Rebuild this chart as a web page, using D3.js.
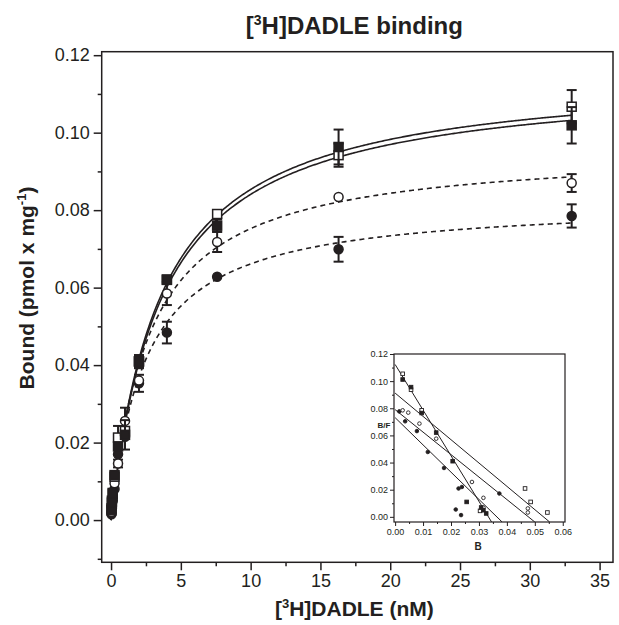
<!DOCTYPE html>
<html>
<head>
<meta charset="utf-8">
<script src="https://cdn.jsdelivr.net/npm/d3@7"></script>
<style>
  body { margin: 0; background: #fff; }
  text { font-family: "Liberation Sans", Arial, sans-serif; fill: #231f20; }
</style>
</head>
<body>
<div id="chart"></div>
<script>
// concentrations (nM)
const conc = [0.03, 0.06, 0.12, 0.25, 0.5, 1, 2, 4, 7.6, 16.3, 33];

// bound (pmol x mg-1) and SEM per series
const boundOpenSq = [0.003, 0.005, 0.007, 0.0112, 0.0213, 0.023, 0.041, 0.062, 0.079, 0.0942, 0.1067];
const errOpenSq   = [0, 0, 0, 0, 0.003, 0, 0.0015, 0, 0.001, 0.003, 0.0043];
const boundFillSq = [0.0025, 0.0045, 0.0068, 0.0116, 0.019, 0.022, 0.0409, 0.0621, 0.076, 0.0963, 0.1019];
const errFillSq   = [0, 0, 0, 0, 0, 0.0038, 0.0017, 0, 0.0016, 0.0045, 0.0047];
const boundOpenCi = [0.002, 0.0035, 0.0055, 0.0095, 0.0146, 0.0256, 0.036, 0.0585, 0.0718, 0.0834, 0.087];
const errOpenCi   = [0, 0, 0, 0, 0.001, 0.0034, 0, 0.003, 0.0026, 0, 0.0023];
const boundFillCi = [0.0015, 0.003, 0.005, 0.008, 0.017, 0.0215, 0.0353, 0.0484, 0.0628, 0.0699, 0.0785];
const errFillCi   = [0, 0, 0, 0, 0, 0, 0.0022, 0.0028, 0, 0.0032, 0.003];

// one-site fits: Bmax, Kd
const fitBmax = [0.1158, 0.1145, 0.096, 0.0824];
const fitKd   = [3.57, 3.62, 2.76, 2.46];
const fitDashed = [false, false, true, true];

// Scatchard inset (B, B/F)
const scB_OpenSq  = [0.0027, 0.0057, 0.0095, 0.0304, 0.0465, 0.0485, 0.0545];
const scBF_OpenSq = [0.1054, 0.0937, 0.0785, 0.0044, 0.0209, 0.011, 0.0032];
const scB_FillSq  = [0.0027, 0.0057, 0.0095, 0.0147, 0.0206, 0.0256, 0.0308, 0.0316, 0.0326];
const scBF_FillSq = [0.1012, 0.0956, 0.0765, 0.0621, 0.041, 0.011, 0.0069, 0.0049, 0.0025];
const scB_OpenCi  = [0.0027, 0.0047, 0.0087, 0.0147, 0.0275, 0.0316, 0.0316, 0.0475, 0.0475];
const scBF_OpenCi = [0.0785, 0.0768, 0.0687, 0.0576, 0.0257, 0.014, 0.0069, 0.0062, 0.0032];
const scB_FillCi  = [0.0015, 0.0036, 0.0078, 0.0117, 0.0175, 0.0227, 0.0239, 0.0217, 0.0236, 0.0373];
const scBF_FillCi = [0.0777, 0.0704, 0.0632, 0.0478, 0.036, 0.0209, 0.022, 0.0054, 0.0013, 0.0172];
// regression lines: B/F intercept, B intercept
const scIntBF = [0.1123, 0.0731, 0.079, 0.0912];
const scIntB  = [0.0334, 0.0364, 0.0477, 0.0531];

const ink = "#231f20";
const W = 619, H = 625;
const m = { LEFT: 101.7, RIGHT: 613, TOP: 51.7, BOTTOM: 562.3 };

const svg = d3.select("#chart").append("svg")
  .attr("width", W).attr("height", H);

const x = d3.scaleLinear().domain([-0.67, 35.96]).range([m.LEFT, m.RIGHT]);
const y = d3.scaleLinear().domain([-0.0109, 0.1209]).range([m.BOTTOM, m.TOP]);

// frame
svg.append("rect")
  .attr("x", m.LEFT).attr("y", m.TOP)
  .attr("width", m.RIGHT - m.LEFT).attr("height", m.BOTTOM - m.TOP)
  .attr("fill", "none").attr("stroke", ink).attr("stroke-width", 1.5);

// axes
const xAxis = d3.axisBottom(x).tickValues(d3.range(0, 36, 5)).tickSize(8).tickPadding(4).tickFormat(d3.format("d"));
const xMinor = d3.axisBottom(x).tickValues(d3.range(2.5, 35, 5)).tickSize(4).tickFormat("");
const yAxis = d3.axisLeft(y).tickValues(d3.range(0, 0.121, 0.02)).tickSize(8).tickPadding(4).tickFormat(d3.format(".2f"));
const yMinor = d3.axisLeft(y).tickValues([-0.01, 0.01, 0.03, 0.05, 0.07, 0.09, 0.11]).tickSize(4).tickFormat("");

function styleAxis(g, fs) {
  g.select(".domain").remove();
  g.selectAll("line").attr("stroke", ink).attr("stroke-width", 1.5);
  g.selectAll("text").attr("font-size", fs).attr("fill", ink);
}
svg.append("g").attr("transform", `translate(0,${m.BOTTOM})`).call(xAxis).call(g => styleAxis(g, 18));
svg.append("g").attr("transform", `translate(0,${m.BOTTOM})`).call(xMinor).call(g => styleAxis(g, 18));
svg.append("g").attr("transform", `translate(${m.LEFT},0)`).call(yAxis).call(g => styleAxis(g, 18));
svg.append("g").attr("transform", `translate(${m.LEFT},0)`).call(yMinor).call(g => styleAxis(g, 18));

// titles
const title = svg.append("text")
  .attr("x", (m.LEFT + m.RIGHT) / 2 - 3).attr("y", 34)
  .attr("text-anchor", "middle").attr("font-size", 24).attr("font-weight", "bold");
title.append("tspan").text("[");
title.append("tspan").attr("font-size", 14).attr("dy", -9).text("3");
title.append("tspan").attr("dy", 9).text("H]DADLE binding");

const xLab = svg.append("text")
  .attr("x", (m.LEFT + m.RIGHT) / 2 - 3).attr("y", 616)
  .attr("text-anchor", "middle").attr("font-size", 21).attr("font-weight", "bold");
xLab.append("tspan").text("[");
xLab.append("tspan").attr("font-size", 13).attr("dy", -8).text("3");
xLab.append("tspan").attr("dy", 8).text("H]DADLE (nM)");

const yLab = svg.append("text")
  .attr("transform", `translate(34,288) rotate(-90)`)
  .attr("text-anchor", "middle").attr("font-size", 21).attr("font-weight", "bold");
yLab.append("tspan").text("Bound (pmol x mg");
yLab.append("tspan").attr("font-size", 13).attr("dy", -8).text("-1");
yLab.append("tspan").attr("dy", 8).text(")");

// fit curves
const curveX = d3.range(0, 33.01, 0.1);
const line = d3.line().x(d => x(d[0])).y(d => y(d[1]));
fitBmax.forEach((bm, i) => {
  svg.append("path")
    .attr("d", line(curveX.map(c => [c, bm * c / (fitKd[i] + c)])))
    .attr("fill", "none").attr("stroke", ink).attr("stroke-width", 1.6)
    .attr("stroke-dasharray", fitDashed[i] ? "5,4" : null);
});

// data series
const series = [
  { vals: boundFillCi, errs: errFillCi, shape: "circle", filled: true },
  { vals: boundOpenCi, errs: errOpenCi, shape: "circle", filled: false },
  { vals: boundOpenSq, errs: errOpenSq, shape: "square", filled: false },
  { vals: boundFillSq, errs: errFillSq, shape: "square", filled: true }
];

function drawMarker(g, cx, cy, shape, filled, size, sw) {
  if (shape === "circle") {
    g.append("circle").attr("cx", cx).attr("cy", cy).attr("r", size / 2)
      .attr("fill", filled ? ink : "#fff").attr("stroke", ink).attr("stroke-width", sw);
  } else {
    g.append("rect").attr("x", cx - size / 2).attr("y", cy - size / 2)
      .attr("width", size).attr("height", size)
      .attr("fill", filled ? ink : "#fff").attr("stroke", ink).attr("stroke-width", sw);
  }
}

const gPts = svg.append("g");
series.forEach(s => {
  s.vals.forEach((v, i) => {
    const e = s.errs[i];
    if (e > 0) {
      const cx = x(conc[i]);
      const lo = v - e, hi = v + e;
      gPts.append("line").attr("x1", cx).attr("x2", cx).attr("y1", y(lo)).attr("y2", y(hi))
        .attr("stroke", ink).attr("stroke-width", 2);
      [lo, hi].forEach(t => gPts.append("line")
        .attr("x1", cx - 5).attr("x2", cx + 5).attr("y1", y(t)).attr("y2", y(t))
        .attr("stroke", ink).attr("stroke-width", 2));
    }
  });
  s.vals.forEach((v, i) => drawMarker(gPts, x(conc[i]), y(v), s.shape, s.filled, 9, 1.5));
});

// inset (Scatchard)
const ins = { LEFT: 394, RIGHT: 565, TOP: 354, BOTTOM: 522 };
const ix = d3.scaleLinear().domain([-0.0004, 0.0608]).range([ins.LEFT, ins.RIGHT]);
const iy = d3.scaleLinear().domain([-0.0038, 0.12]).range([ins.BOTTOM, ins.TOP]);

svg.append("rect")
  .attr("x", ins.LEFT).attr("y", ins.TOP)
  .attr("width", ins.RIGHT - ins.LEFT).attr("height", ins.BOTTOM - ins.TOP)
  .attr("fill", "#fff").attr("stroke", ink).attr("stroke-width", 1.2);

svg.append("clipPath").attr("id", "insClip").append("rect")
  .attr("x", ins.LEFT).attr("y", ins.TOP)
  .attr("width", ins.RIGHT - ins.LEFT).attr("height", ins.BOTTOM - ins.TOP);

const ixAxis = d3.axisBottom(ix).tickValues(d3.range(0, 0.061, 0.01)).tickSize(4).tickPadding(3).tickFormat(d3.format(".2f"));
const ixMinor = d3.axisBottom(ix).tickValues(d3.range(0.005, 0.06, 0.01)).tickSize(2).tickFormat("");
const iyAxis = d3.axisLeft(iy).tickValues(d3.range(0, 0.121, 0.02)).tickSize(4).tickPadding(2).tickFormat(d3.format(".2f"));
const iyMinor = d3.axisLeft(iy).tickValues(d3.range(0.01, 0.12, 0.02)).tickSize(2).tickFormat("");
function styleInset(g) {
  g.select(".domain").remove();
  g.selectAll("line").attr("stroke", ink).attr("stroke-width", 1);
  g.selectAll("text").attr("font-size", 9).attr("fill", ink);
}
svg.append("g").attr("transform", `translate(0,${ins.BOTTOM})`).call(ixAxis).call(styleInset);
svg.append("g").attr("transform", `translate(0,${ins.BOTTOM})`).call(ixMinor).call(styleInset);
svg.append("g").attr("transform", `translate(${ins.LEFT},0)`).call(iyAxis).call(styleInset);
svg.append("g").attr("transform", `translate(${ins.LEFT},0)`).call(iyMinor).call(styleInset);

svg.append("text").attr("x", 478).attr("y", 550)
  .attr("text-anchor", "middle").attr("font-size", 10).attr("font-weight", "bold").text("B");
svg.append("text").attr("x", 384).attr("y", 428)
  .attr("text-anchor", "middle").attr("font-size", 8).attr("font-weight", "bold").text("B/F");

const gIns = svg.append("g").attr("clip-path", "url(#insClip)");
scIntBF.forEach((b0, i) => {
  const b1 = scIntB[i];
  const yMin = iy.domain()[0];
  const bEnd = b1 * (1 - yMin / b0);
  gIns.append("line")
    .attr("x1", ix(0)).attr("y1", iy(b0))
    .attr("x2", ix(bEnd)).attr("y2", iy(yMin))
    .attr("stroke", ink).attr("stroke-width", 1);
});

const insSeries = [
  { bs: scB_FillCi, bfs: scBF_FillCi, shape: "circle", filled: true },
  { bs: scB_OpenCi, bfs: scBF_OpenCi, shape: "circle", filled: false },
  { bs: scB_OpenSq, bfs: scBF_OpenSq, shape: "square", filled: false },
  { bs: scB_FillSq, bfs: scBF_FillSq, shape: "square", filled: true }
];
insSeries.forEach(s => {
  s.bs.forEach((b, i) => drawMarker(gIns, ix(b), iy(s.bfs[i]), s.shape, s.filled, 3.6, 0.9));
});
</script>
</body>
</html>
